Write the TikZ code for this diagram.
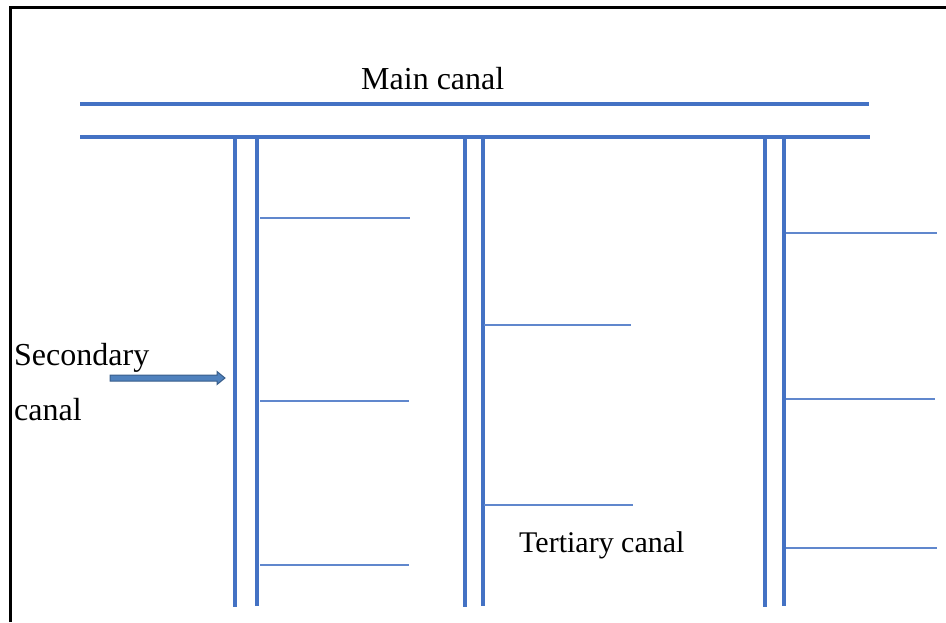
\documentclass[tikz,border=0pt]{standalone}
\usepackage{fontspec}
\setmainfont{Liberation Serif}
\begin{document}
\begin{tikzpicture}[x=1pt,y=-1pt,
  canal/.style={draw=canalblue,line width=3.6pt},
  secondary/.style={draw=canalblue,line width=3.2pt},
  tertiary/.style={draw=canalblue!85!white,line width=1.6pt},
  label/.style={inner sep=0pt,anchor=base west,font=\fontsize{30}{36}\selectfont},
  frameline/.style={draw=black,line width=3pt}]
\definecolor{canalblue}{HTML}{4472C4}
\definecolor{arrowfill}{HTML}{4F81BD}
\definecolor{arrowedge}{HTML}{385D8A}
\useasboundingbox (0,0) rectangle (946,622);

% frame (left and top edges)
\draw[frameline] (10.5,622) -- (10.5,7.5) -- (946,7.5);

% main canal banks
\draw[canal] (80,104) -- (869,104);
\draw[canal] (80,137) -- (870,137);

% secondary canals
\foreach \xa/\xb in {235/257, 465/483, 765/784} {
  \draw[secondary] (\xa,139) -- (\xa,607);
  \draw[secondary] (\xb,139) -- (\xb,606);
}

% tertiary canals
\draw[tertiary] (260,218) -- (410,218);
\draw[tertiary] (260,401) -- (409,401);
\draw[tertiary] (260,565) -- (409,565);
\draw[tertiary] (484,325) -- (631,325);
\draw[tertiary] (484,505) -- (633,505);
\draw[tertiary] (786,233) -- (937,233);
\draw[tertiary] (786,399) -- (935,399);
\draw[tertiary] (786,548) -- (937,548);

% labels
\node[label,font=\fontsize{32}{38}\selectfont] (main) at (361,89) {Main canal};
\node[label] (tert) at (519,552) {Tertiary canal};
\node[label,font=\fontsize{32}{38}\selectfont] (sec1) at (14,365) {Secondary};
\node[label,font=\fontsize{32}{38}\selectfont] (sec2) at (14,420) {canal};

% pointer to the secondary canal
\filldraw[fill=arrowfill,draw=arrowedge,line width=1pt]
  (110,375) -- (217,375) -- (217,371.5) -- (225,378) -- (217,384.5)
  -- (217,381) -- (110,381) -- cycle;
\end{tikzpicture}
\end{document}
